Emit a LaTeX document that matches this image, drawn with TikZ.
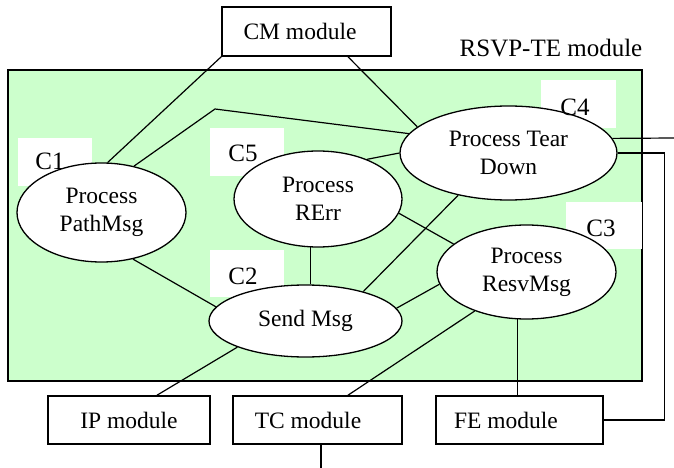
\documentclass[tikz,border=0pt]{standalone}
\usepackage{fontspec}
\setmainfont{Liberation Serif}
\usetikzlibrary{shapes.geometric,calc}
\definecolor{palegreen}{HTML}{CCFFCC}
\begin{document}
\begin{tikzpicture}[x=1pt,y=-1pt,
  modbox/.style={draw,line width=1.6pt,minimum width=#1,minimum height=48pt,inner sep=0pt,font=\fontsize{23.5}{28}\selectfont},
  proc/.style={ellipse,draw,fill=white,line width=1.3pt,inner sep=0pt,align=center,font=\fontsize{23.5}{28}\selectfont},
  tagbg/.style={fill=white,minimum width=74pt,minimum height=48pt,inner sep=0pt},
  tag/.style={font=\fontsize{25}{30}\selectfont,inner sep=0pt},
  link/.style={line width=1.2pt}]
\useasboundingbox (0,0) rectangle (674,468);
% RSVP-TE module area
\node[draw,fill=palegreen,line width=1.6pt,minimum width=634pt,minimum height=311pt,inner sep=0pt] (area) at (325,225.5) {};
\node[font=\fontsize{25}{30}\selectfont,inner sep=0pt] (title) at (551,48) {RSVP-TE module};
% white label patches
\node[tagbg] (c1bg) at (55,162) {};
\node[tagbg] (c5bg) at (247,152) {};
\node[tagbg,minimum width=75pt] (c4bg) at (578.5,104) {};
\node[tagbg,minimum height=47pt] (c2bg) at (247,273.5) {};
\node[tagbg,minimum width=76pt,minimum height=47pt] (c3bg) at (604,225.5) {};
% modules
\node[modbox=169pt,minimum height=49pt] (cm) at (306.5,31.5) {CM module\hspace*{13pt}};
\node[modbox=162pt] (ip) at (129,420) {IP module};
\node[modbox=169pt] (tc) at (317.5,420) {TC module\hspace*{19pt}};
\node[modbox=167pt] (fe) at (519.5,420) {FE module\hspace*{27pt}};
% processes
\node[proc,minimum width=169pt,minimum height=99pt] (pm) at (101.5,212.5) {Process\\PathMsg};
\node[proc,minimum width=168pt,minimum height=96pt] (re) at (318,199) {Process\\RErr};
\node[proc,minimum width=217pt,minimum height=94pt] (td) at (508.5,153) {Process Tear\\Down};
\node[proc,minimum width=179pt,minimum height=94pt] (rv) at (526.5,272) {Process\\ResvMsg};
\node[proc,minimum width=193pt,minimum height=72pt] (sm) at (305.5,321) {Send Msg};
% connectors
\coordinate (kink) at (215,109);
\coordinate (tdout) at (674,138);
\coordinate (tcout) at (321,468);
\draw[link] (cm.south west) -- (pm.83);
\draw[link] (pm.55) -- (kink) -- (td.169);
\draw[link] ([xshift=41.5pt]cm.south) -- (td.164);
\draw[link] (re.39.7) -- (td.180);
\draw[link] (re.-99.5) -- (re.-99.5 |- sm.north);
\draw[link] (sm.27.2) -- (td.220.7);
\draw[link] (re.-10.4) -- (rv.159);
\draw[link] (sm.8.9) -- (rv.188.3);
\draw[link] (pm.-56.5) -- (sm.171);
\draw[link] (sm.201) -- ([xshift=28pt]ip.north);
\draw[link] (rv.217.6) -- ([xshift=30.5pt]tc.north);
\draw[link] (rv.-101) -- (rv.-101 |- fe.north);
\draw[link] (td.8.3) -- (tdout);
\draw[link] (td.east) -- ++(47,0) |- (fe.east);
\draw[link] ([xshift=3.5pt]tc.south) -- (tcout);
% labels
\node[tag] (c1) at (50,161) {C1};
\node[tag] (c5) at (243,153) {C5};
\node[tag] (c4) at (575,107) {C4};
\node[tag] (c2) at (243,276) {C2};
\node[tag] (c3) at (601,228) {C3};
\end{tikzpicture}
\end{document}
